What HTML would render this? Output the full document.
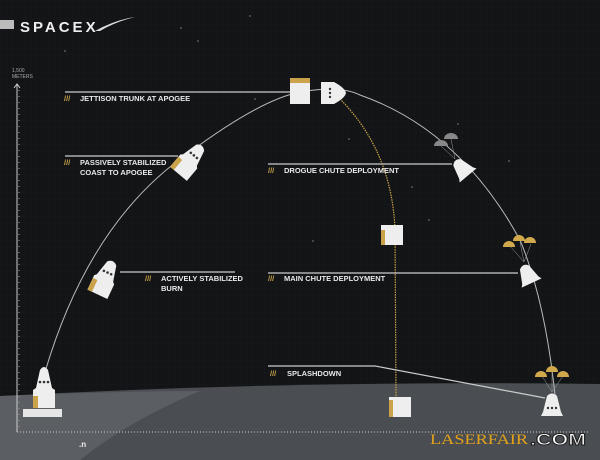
<!DOCTYPE html>
<html><head><meta charset="utf-8"><style>
html,body{margin:0;padding:0;background:#111214;}
svg{display:block}
text{font-family:"Liberation Sans",sans-serif;font-weight:bold;fill:#e8e8e8}
</style></head><body>
<svg width="600" height="460" viewBox="0 0 600 460" xmlns="http://www.w3.org/2000/svg">
<defs>
<pattern id="g" width="6" height="6" patternUnits="userSpaceOnUse"><path d="M6 0H0V6" fill="none" stroke="#1c1e21" stroke-width="0.5"/></pattern>
</defs>
<rect width="600" height="460" fill="#131416"/>
<rect width="600" height="460" fill="url(#g)"/>
<path d="M0 396 Q300 380 600 384 V460 H0Z" fill="#4a4e53"/>
<path d="M0 396 Q120 391 200 391 Q130 420 80 460 H0Z" fill="#5b5e63"/>
<g fill="#555"><circle cx="250" cy="16" r="1"/><circle cx="181" cy="28" r="1"/><circle cx="198" cy="41" r="1"/><circle cx="65" cy="51" r="1"/><circle cx="255" cy="99" r="1"/><circle cx="349" cy="139" r="1"/><circle cx="458" cy="124" r="1"/><circle cx="509" cy="161" r="1"/><circle cx="412" cy="187" r="1"/><circle cx="313" cy="241" r="1"/><circle cx="429" cy="220" r="1"/></g>
<rect x="0" y="20" width="14" height="9" fill="#bbb"/>
<text x="20" y="32" font-size="15" letter-spacing="3" style="font-weight:bold;fill:#eee">SPACEX</text>
<path d="M95 31 Q115 20 135 17 Q115 22 100 31Z" fill="#ddd"/>
<text x="12" y="72" font-size="5" style="font-weight:normal;fill:#aaa">1,500</text>
<text x="12" y="78" font-size="5" style="font-weight:normal;fill:#aaa">METERS</text>
<line x1="17" y1="84" x2="17" y2="432" stroke="#ccc" stroke-width="1"/>
<path d="M14 88 L17 84 L20 88" fill="none" stroke="#ccc"/>
<line x1="17" y1="432" x2="590" y2="432" stroke="#ccc" stroke-width="1" stroke-dasharray="1 2"/>
<path d="M19 90V430" stroke="#999" stroke-dasharray="1 5"/>
<path d="M45 372 Q90 220 190 152 Q260 100 300 92 Q340 85 360 95 Q460 130 520 240 Q545 300 555 395" fill="none" stroke="#bbb" stroke-width="1"/>
<path d="M338 97 Q392 150 395 230 L396 400" fill="none" stroke="#c9a24a" stroke-width="1.2" stroke-dasharray="1.5 1"/>
<g stroke="#ccc" stroke-width="1.2" fill="none">
<line x1="65" y1="92" x2="290" y2="92"/>
<line x1="65" y1="156" x2="178" y2="156"/>
<line x1="120" y1="272" x2="235" y2="272"/>
<line x1="268" y1="164" x2="452" y2="164"/>
<line x1="268" y1="273" x2="518" y2="273"/>
<path d="M268 366 H375 L545 398"/>
</g>
<g font-size="7.5">
<text x="80" y="101">JETTISON TRUNK AT APOGEE</text>
<text x="80" y="165">PASSIVELY STABILIZED</text>
<text x="80" y="175">COAST TO APOGEE</text>
<text x="161" y="281">ACTIVELY STABILIZED</text>
<text x="161" y="291">BURN</text>
<text x="284" y="173">DROGUE CHUTE DEPLOYMENT</text>
<text x="284" y="281">MAIN CHUTE DEPLOYMENT</text>
<text x="287" y="376">SPLASHDOWN</text>
</g>
<g font-size="7.5"><text x="64" y="101" style="fill:#c9a24a">///</text><text x="64" y="165" style="fill:#c9a24a">///</text><text x="145" y="281" style="fill:#c9a24a">///</text><text x="268" y="173" style="fill:#c9a24a">///</text><text x="268" y="281" style="fill:#c9a24a">///</text><text x="270" y="376" style="fill:#c9a24a">///</text></g>
<g fill="#eee">
<rect x="23" y="409" width="39" height="8" fill="#e6e6e6"/>
<path d="M33 408 V390 L36 388 L40 370 Q44 364 48 370 L52 388 L55 390 V408Z"/>
<path d="M33 396 h5 v12 h-5z" fill="#c9a24a"/>
<g fill="#333"><circle cx="40" cy="382" r="1.3"/><circle cx="44" cy="382" r="1.3"/><circle cx="48" cy="382" r="1.3"/></g>
<g transform="translate(105,278) rotate(25)"><path d="M-11 18 V2 L-9 0 L-5 -16 Q0 -21 5 -16 L9 0 L11 2 V18Z"/><rect x="-11" y="5" width="5" height="13" fill="#c9a24a"/><g fill="#333"><circle cx="-4" cy="-6" r="1.3"/><circle cx="0" cy="-6" r="1.3"/><circle cx="4" cy="-6" r="1.3"/></g></g>
<g transform="translate(190,160) rotate(40)"><path d="M-11 18 V2 L-9 0 L-5 -16 Q0 -21 5 -16 L9 0 L11 2 V18Z"/><rect x="-11" y="5" width="5" height="13" fill="#c9a24a"/><g fill="#333"><circle cx="-4" cy="-6" r="1.3"/><circle cx="0" cy="-6" r="1.3"/><circle cx="4" cy="-6" r="1.3"/></g></g>
<rect x="290" y="78" width="20" height="26"/><rect x="290" y="78" width="20" height="5" fill="#c9a24a"/>
<path d="M321 82 H334 Q345 88 346 93 Q345 98 334 104 H321Z"/>
<g fill="#333"><circle cx="330" cy="89" r="1.2"/><circle cx="330" cy="93" r="1.2"/><circle cx="330" cy="97" r="1.2"/></g>
<g transform="translate(461,167) rotate(-40)"><path d="M-11 11 L-9 8 L-5 -6 Q0 -11 5 -6 L9 8 L11 11Z"/></g>
<g stroke="#999" stroke-width="0.5"><line x1="441" y1="146" x2="455" y2="159"/><line x1="451" y1="139" x2="455" y2="159"/></g>
<g fill="#888"><path d="M434 146 a7 6 0 0 1 14 0Z"/><path d="M444 139 a7 6 0 0 1 14 0Z"/></g>
<g transform="translate(527,273) rotate(-25)"><path d="M-11 11 L-9 8 L-5 -6 Q0 -11 5 -6 L9 8 L11 11Z"/></g>
<g stroke="#999" stroke-width="0.5"><line x1="510" y1="246" x2="524" y2="262"/><line x1="520" y1="242" x2="524" y2="262"/><line x1="531" y1="244" x2="524" y2="262"/></g>
<g fill="#d1a84c"><path d="M503 247 a6 6 0 0 1 12 0Z"/><path d="M513 241 a6 6 0 0 1 12 0Z"/><path d="M524 243 a6 6 0 0 1 12 0Z"/></g>
<rect x="381" y="225" width="22" height="20"/><rect x="381" y="230" width="4" height="15" fill="#c9a24a"/>
<rect x="389" y="397" width="22" height="20"/><rect x="389" y="400" width="4" height="17" fill="#c9a24a"/>
<path d="M541 416 L543 412 L547 396 Q552 391 557 396 L561 412 L563 416Z"/>
<g fill="#333"><circle cx="548" cy="408" r="1.2"/><circle cx="552" cy="408" r="1.2"/><circle cx="556" cy="408" r="1.2"/></g>
<g stroke="#999" stroke-width="0.5"><line x1="542" y1="376" x2="552" y2="392"/><line x1="552" y1="372" x2="552" y2="392"/><line x1="563" y1="376" x2="552" y2="392"/></g>
<g fill="#d1a84c"><path d="M535 377 a6 6 0 0 1 12 0Z"/><path d="M546 372 a6 6 0 0 1 12 0Z"/><path d="M557 377 a6 6 0 0 1 12 0Z"/></g>
</g>
<text x="430" y="444" font-size="15" textLength="98" lengthAdjust="spacingAndGlyphs" style="font-family:'Liberation Serif',serif;font-weight:normal;fill:#e3a21a">LASERFAIR</text>
<text x="530" y="445" font-size="17" textLength="56" lengthAdjust="spacingAndGlyphs" style="fill:#fff;stroke:#222;stroke-width:1">.COM</text>
<text x="79" y="447" font-size="8" style="fill:#eee">.n</text>
</svg>
</body></html>
